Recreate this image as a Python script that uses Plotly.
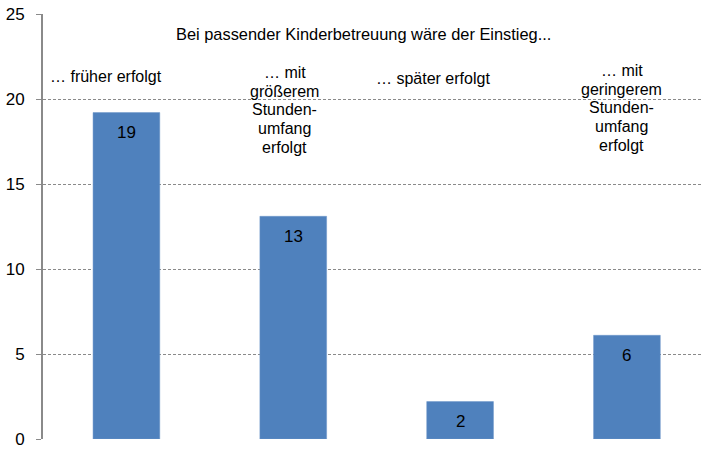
import plotly.graph_objects as go

categories = ["früher", "größerem", "später", "geringerem"]
values = [19.2, 13.1, 2.2, 6.1]
value_labels = ["19", "13", "2", "6"]
y_ticks = [0, 5, 10, 15, 20, 25]

header_text = "Bei passender Kinderbetreuung wäre der Einstieg..."
cat_lines = [
    ["… früher erfolgt"],
    ["… mit", "größerem", "Stunden-", "umfang", "erfolgt"],
    ["… später erfolgt"],
    ["… mit", "geringerem", "Stunden-", "umfang", "erfolgt"],
]
cat_text_x = [-0.12, 0.95, 1.84, 2.97]
cat_text_y_first = [21.3, 21.56, 21.18, 21.68]
LINE_STEP = 1.1  # in data units

FONT = "Liberation Sans, Arial, sans-serif"
GRID = "#8a8a8a"

fig = go.Figure()
fig.add_trace(go.Bar(
    x=list(range(len(categories))),
    y=values,
    width=0.4,
    marker=dict(color="#4F81BD", line=dict(color="#6d96c9", width=0.5)),
    hoverinfo="skip",
))

# value labels inside bars
for i, (v, t) in enumerate(zip(values, value_labels)):
    fig.add_annotation(x=i, y=v, xref="x", yref="y", text=t, showarrow=False,
                       yanchor="middle", yshift=-20,
                       font=dict(family=FONT, size=17, color="black"))

fig.add_annotation(x=1.42, y=23.82, xref="x", yref="y", text=header_text,
                   showarrow=False, font=dict(family=FONT, size=16.4, color="black"))

for lines, x, y0 in zip(cat_lines, cat_text_x, cat_text_y_first):
    for k, line in enumerate(lines):
        fig.add_annotation(x=x, y=y0 - k * LINE_STEP, xref="x", yref="y",
                           text=line, showarrow=False, yanchor="middle",
                           font=dict(family=FONT, size=16, color="black"))

fig.update_layout(
    width=701, height=450,
    margin=dict(l=43, r=0, t=14, b=11),
    paper_bgcolor="white", plot_bgcolor="white",
    showlegend=False,
    font=dict(family=FONT, color="black"),
)
fig.update_xaxes(range=[-0.5, 3.444], showticklabels=False, showgrid=False,
                 showline=False, zeroline=False, ticks="")
fig.update_yaxes(range=[0, 25], tickvals=y_ticks, showgrid=True, gridcolor=GRID,
                 griddash="3px,2px", gridwidth=1, zeroline=False,
                 showline=True, linecolor="#8a8a8a", linewidth=2,
                 ticks="outside", ticklen=5, tickcolor=GRID, tickwidth=1,
                 ticklabelstandoff=8,
                 tickfont=dict(family=FONT, size=17, color="black"))

fig.write_html("out.html",
               config={"displayModeBar": False},
               post_script="document.body.style.margin='0';document.body.style.overflow='hidden';")
